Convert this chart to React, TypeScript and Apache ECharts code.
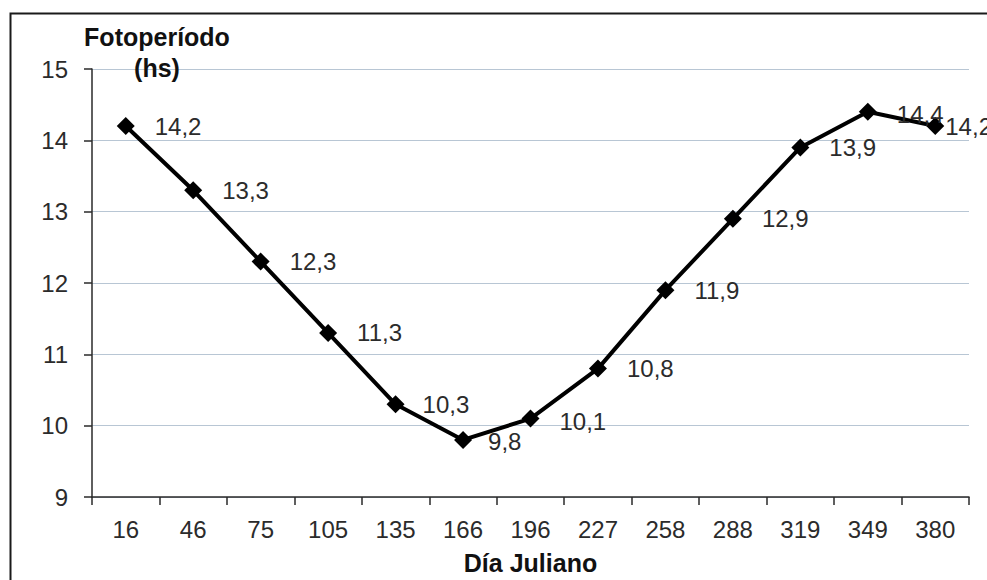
import React, { useEffect, useRef } from "react";
import * as echarts from "echarts";

// Julian day (category labels) and photoperiod in hours
const julianDays = ["16", "46", "75", "105", "135", "166", "196", "227", "258", "288", "319", "349", "380"];
const photoperiodHours = [14.2, 13.3, 12.3, 11.3, 10.3, 9.8, 10.1, 10.8, 11.9, 12.9, 13.9, 14.4, 14.2];

const FONT = "'Liberation Sans', Arial, Helvetica, sans-serif";

// label spacing tweaks for a few crowded points (index -> distance / offset)
const labelDistance: Record<number, number> = { 4: 18, 5: 16, 12: 1 };
const labelOffset: Record<number, [number, number]> = { 5: [0, 2], 6: [0, 3], 11: [0, 3] };

export default function App() {
  const ref = useRef<HTMLDivElement>(null);

  useEffect(() => {
    if (!ref.current) return;
    const chart = echarts.init(ref.current, undefined, { renderer: "svg" });

    const data = photoperiodHours.map((v, i) => {
      const item: any = { value: v };
      if (labelDistance[i] !== undefined || labelOffset[i] !== undefined) {
        item.label = {};
        if (labelDistance[i] !== undefined) item.label.distance = labelDistance[i];
        if (labelOffset[i] !== undefined) item.label.offset = labelOffset[i];
      }
      return item;
    });

    chart.setOption({
      animation: false,
      backgroundColor: "#ffffff",
      grid: { left: 92, right: 18, top: 69, bottom: 78, containLabel: false },
      graphic: [
        {
          type: "rect",
          z: 0,
          silent: true,
          shape: { x: 10.5, y: 13.5, width: 1200, height: 800 },
          style: { fill: "none", stroke: "#1a1a1a", lineWidth: 2 },
        },
        {
          type: "text",
          z: 10,
          x: 157,
          y: 21,
          style: {
            text: "Fotoperíodo\n(hs)",
            fill: "#111",
            font: `bold 25px ${FONT}`,
            align: "center",
            verticalAlign: "top",
            lineHeight: 31,
          },
        },
      ],
      xAxis: {
        type: "category",
        data: julianDays,
        boundaryGap: true,
        name: "Día Juliano",
        nameLocation: "middle",
        nameGap: 53,
        nameTextStyle: { fontFamily: FONT, fontSize: 25, fontWeight: "bold", color: "#111" },
        axisLine: { show: true, lineStyle: { color: "#2a2a2a", width: 1.5 } },
        axisTick: { show: true, length: 8, lineStyle: { color: "#2a2a2a", width: 1.5 } },
        axisLabel: { fontFamily: FONT, fontSize: 24, color: "#2b2b2b", margin: 20, interval: 0 },
        splitLine: { show: false },
      },
      yAxis: {
        type: "value",
        min: 9,
        max: 15,
        interval: 1,
        axisLine: { show: true, lineStyle: { color: "#2a2a2a", width: 1.5 } },
        axisTick: { show: true, length: 8, lineStyle: { color: "#2a2a2a", width: 1.5 } },
        axisLabel: { fontFamily: FONT, fontSize: 24, color: "#2b2b2b", margin: 24 },
        splitLine: { show: true, lineStyle: { color: "#b8c6d4", width: 1.2 } },
      },
      series: [
        {
          type: "line",
          data,
          symbol: "diamond",
          symbolSize: 18,
          lineStyle: { color: "#000", width: 4 },
          itemStyle: { color: "#000" },
          label: {
            show: true,
            position: "right",
            distance: 20,
            fontFamily: FONT,
            fontSize: 24,
            color: "#2b2b2b",
            formatter: (p: any) => String(p.value).replace(".", ","),
          },
          z: 5,
        },
      ],
    });

    return () => chart.dispose();
  }, []);

  return (
    <div
      ref={ref}
      style={{ position: "fixed", left: 0, top: 0, width: 987, height: 580, background: "#fff" }}
    />
  );
}
